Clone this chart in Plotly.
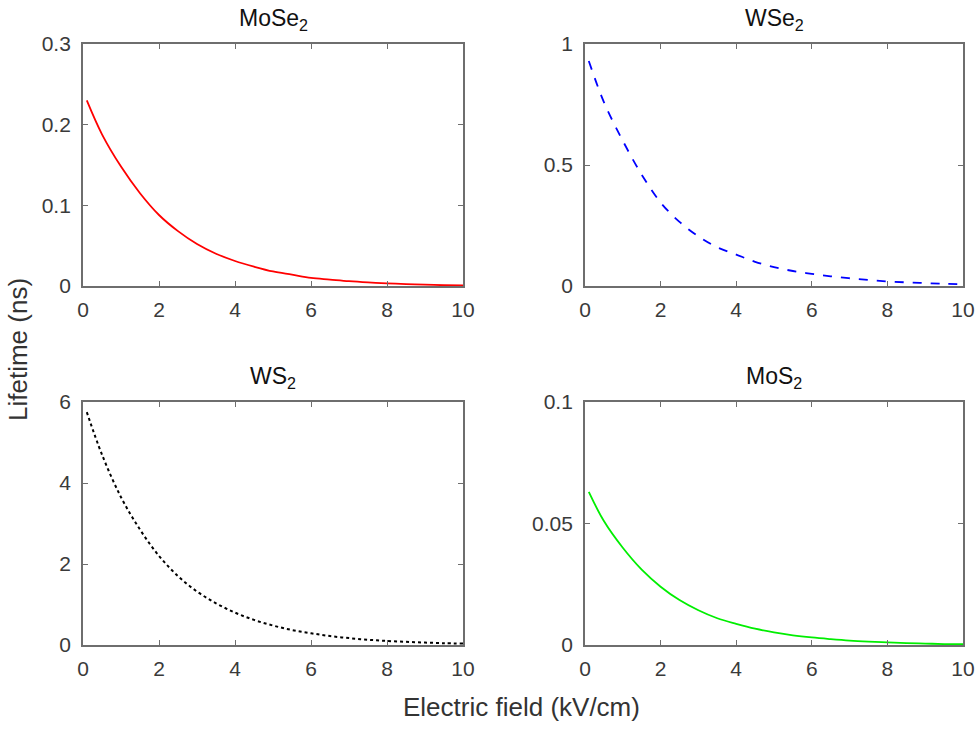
import plotly.graph_objects as go

field = [0.1, 0.5, 1, 1.5, 2, 2.5, 3, 3.5, 4, 4.5, 5, 5.5, 6, 6.5, 7, 7.5, 8, 8.5, 9, 9.5, 10]
mose2 = [0.230, 0.188, 0.148, 0.115, 0.088, 0.068, 0.052, 0.040, 0.031, 0.024, 0.018,
         0.014, 0.010, 0.008, 0.006, 0.0045, 0.0033, 0.0024, 0.0016, 0.0010, 0.0006]
wse2 = [0.93, 0.76, 0.60, 0.46, 0.345, 0.265, 0.205, 0.160, 0.130, 0.100, 0.078,
        0.062, 0.050, 0.040, 0.032, 0.025, 0.019, 0.015, 0.012, 0.009, 0.007]
ws2 = [5.75, 4.70, 3.65, 2.85, 2.20, 1.70, 1.32, 1.03, 0.80, 0.62, 0.48,
       0.37, 0.29, 0.22, 0.17, 0.13, 0.10, 0.08, 0.06, 0.045, 0.035]
mos2 = [0.063, 0.051, 0.040, 0.031, 0.024, 0.0185, 0.0143, 0.011, 0.0087, 0.0067, 0.0052,
        0.0040, 0.0031, 0.0024, 0.0018, 0.0014, 0.0011, 0.0008, 0.0006, 0.0004, 0.0003]

titles = ["MoSe<sub>2</sub>", "WSe<sub>2</sub>", "WS<sub>2</sub>", "MoS<sub>2</sub>"]
x_ticks = [0, 2, 4, 6, 8, 10]
y_ranges = [[0, 0.3], [0, 1], [0, 6], [0, 0.1]]
y_ticks = [[0, 0.1, 0.2, 0.3], [0, 0.5, 1], [0, 2, 4, 6], [0, 0.05, 0.1]]
y_ticktext = [["0", "0.1", "0.2", "0.3"], ["0", "0.5", "1"], ["0", "2", "4", "6"], ["0", "0.05", "0.1"]]

W, H = 979, 729
xdoms = [[83 / W, 463 / W], [585 / W, 963 / W]]
ydoms = [[1 - 286 / H, 1 - 44 / H], [1 - 645 / H, 1 - 402 / H]]

series = [mose2, wse2, ws2, mos2]
styles = [dict(color="#ff0000", width=1.8, dash="solid"),
          dict(color="#0000ff", width=1.8, dash="dash"),
          dict(color="#000000", width=2.0, dash="dot"),
          dict(color="#00ee00", width=1.8, dash="solid")]

fig = go.Figure()
font_fam = "Liberation Sans, Arial, sans-serif"
axis_color = "#6e6e6e"
tick_font = dict(size=21, color="#3a3a3a", family=font_fam)

for i in range(4):
    r, c = divmod(i, 2)
    xa = "x" if i == 0 else f"x{i+1}"
    ya = "y" if i == 0 else f"y{i+1}"
    fig.add_trace(go.Scatter(x=field, y=series[i], mode="lines", line=dict(shape="spline", **styles[i]),
                             xaxis=xa, yaxis=ya, showlegend=False))
    xkey = "xaxis" if i == 0 else f"xaxis{i+1}"
    ykey = "yaxis" if i == 0 else f"yaxis{i+1}"
    fig.layout[xkey] = dict(domain=xdoms[c], anchor=ya, range=[0, 10], tickvals=x_ticks,
                            ticks="inside", ticklen=5, tickcolor=axis_color, mirror="allticks",
                            showline=True, linecolor=axis_color, linewidth=1.8, showgrid=False,
                            zeroline=False, tickfont=tick_font, ticklabelstandoff=4,
                            automargin=False)
    fig.layout[ykey] = dict(domain=ydoms[r], anchor=xa, range=y_ranges[i], tickvals=y_ticks[i],
                            ticktext=y_ticktext[i],
                            ticks="inside", ticklen=5, tickcolor=axis_color, mirror="allticks",
                            showline=True, linecolor=axis_color, linewidth=1.8, showgrid=False,
                            zeroline=False, tickfont=tick_font, ticklabelstandoff=6,
                            automargin=False)
    fig.add_annotation(text=titles[i], x=(xdoms[c][0] + xdoms[c][1]) / 2, y=ydoms[r][1],
                       xref="paper", yref="paper", xanchor="center", yanchor="bottom", yshift=8,
                       showarrow=False, font=dict(size=23, color="#111111", family=font_fam))

fig.add_annotation(text="Lifetime (ns)", x=18 / W, y=1 - 350 / H, xref="paper", yref="paper",
                   textangle=-90, showarrow=False, xanchor="center", yanchor="middle",
                   font=dict(size=26, color="#333333", family=font_fam))
fig.add_annotation(text="Electric field (kV/cm)", x=521 / W, y=1 - 707 / H, xref="paper", yref="paper",
                   showarrow=False, xanchor="center", yanchor="middle",
                   font=dict(size=26, color="#333333", family=font_fam))

fig.update_layout(width=W, height=H, margin=dict(l=0, r=0, t=0, b=0, autoexpand=False),
                  plot_bgcolor="white", paper_bgcolor="white")
fig.write_html("out.html")
